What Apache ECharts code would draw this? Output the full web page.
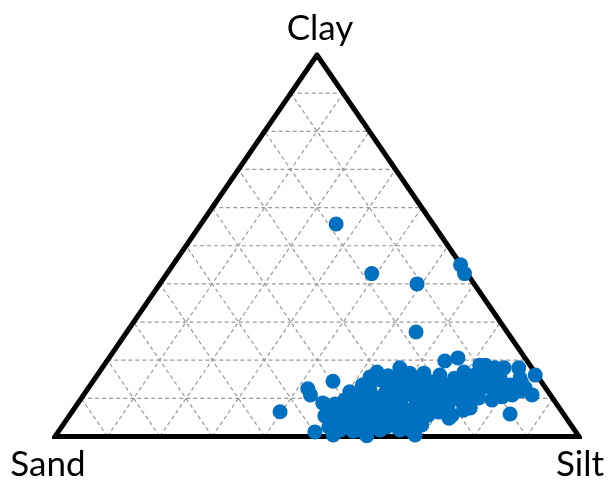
<!DOCTYPE html>
<html>
<head>
<meta charset="utf-8">
<script src="https://cdn.jsdelivr.net/npm/echarts@6/dist/echarts.min.js"></script>
<style>
  html, body { margin: 0; padding: 0; background: #fff; }
  #chart { width: 610px; height: 484px; }
</style>
</head>
<body>
<div id="chart"></div>
<script>
// Soil texture samples, percentages (sand = 100 - silt - clay)
const siltPct = [
  25.8, 39.1, 49.1, 54.9, 56.8, 55.2, 39.7, 83.9,
  42.0, 43.3, 45.8, 46.7, 49.2, 49.0, 51.0, 52.9, 51.6, 50.4,
  52.3, 56.2, 59.4, 53.8, 53.4, 54.0, 52.3, 53.0, 56.4, 58.2,
  57.3, 54.3, 62.0, 62.5, 56.8, 59.4, 61.2, 61.1, 67.4, 67.5,
  62.1, 60.9, 65.4, 64.5, 66.6, 68.4, 69.6, 71.8, 71.7, 75.1,
  75.8, 73.2, 73.0, 70.1, 67.8, 68.5, 68.5, 72.8, 74.5, 71.5,
  69.3, 74.6, 72.4, 76.3, 80.1, 76.7, 79.5, 83.6, 72.8, 77.3,
  81.1, 83.4, 85.6, 77.2, 82.1, 82.8, 75.5,
  54.9, 56.0, 57.3, 60.1, 60.7, 59.5, 58.6, 58.1, 62.5, 64.7,
  63.6, 64.2, 68.4, 64.6, 64.4, 66.1, 66.5, 68.8, 68.6, 70.9,
  73.3, 72.1, 76.8, 50.5, 52.0, 48.8, 51.9, 55.6, 70.9, 57.1,
  79.3, 73.8,
  54.6, 59.4, 64.4, 58.8, 62.6, 67.4, 75.0, 80.7, 51.5, 55.3,
  59.1, 64.9, 69.6, 78.6, 49.0, 53.2, 62.4, 66.2, 51.3, 55.7,
  61.4, 66.6, 53.6, 57.4, 61.2, 65.0, 80.1, 81.8, 75.0
];
const clayPct = [
  55.7, 42.7, 40.0, 45.0, 42.7, 27.4, 6.5, 5.9,
  12.5, 10.9, 14.5, 8.8, 8.5, 1.2, 2.5, 0.4, 6.9, 11.7,
  10.6, 1.4, 0.2, 3.5, 9.6, 12.2, 15.6, 16.9, 14.0, 7.7,
  4.8, 6.2, 2.5, 4.8, 18.0, 16.6, 9.6, 12.2, 1.4, 4.3,
  16.6, 15.3, 16.1, 19.8, 20.6, 13.5, 16.9, 14.3, 18.7, 14.5,
  10.1, 9.0, 5.6, 6.4, 8.3, 3.0, 0.4, 4.8, 6.9, 10.9,
  12.2, 16.1, 14.8, 13.5, 10.4, 18.0, 18.0, 16.1, 18.7, 15.3,
  15.3, 12.7, 10.9, 12.5, 14.0, 11.9, 7.5,
  7.5, 10.1, 11.4, 8.8, 6.4, 4.3, 2.2, 14.8, 13.5, 11.7,
  10.1, 6.9, 5.6, 4.3, 2.2, 10.9, 12.7, 10.1, 15.3, 12.7,
  11.7, 16.1, 14.3, 9.6, 4.8, 5.4, 13.5, 15.9, 8.3, 6.9,
  13.2, 10.1,
  14.8, 14.8, 14.3, 12.2, 12.2, 12.2, 12.2, 12.2, 9.6, 9.6,
  9.6, 9.6, 9.6, 9.6, 6.9, 6.9, 6.9, 6.9, 4.3, 4.3,
  4.3, 4.3, 1.7, 1.7, 1.7, 1.7, 13.5, 10.9, 18.0
];

// Gridline levels (percent) and corner names
const gridLevels = [10, 20, 30, 40, 50, 60, 70, 80, 90];
const cornerNames = { top: 'Clay', left: 'Sand', right: 'Silt' };

// Ternary (silt, clay) -> plane coordinates: Sand at (0,0), Silt at (100,0), Clay at (50,100)
function toPlane(silt, clay) {
  return [silt + clay / 2, clay];
}

const points = siltPct.map((s, i) => toPlane(s, clayPct[i]));

const gridStyle = { color: '#999999', width: 1.2, type: [4, 3] };
const gridSeries = [];
gridLevels.forEach(v => {
  // constant clay
  gridSeries.push([toPlane(0, v), toPlane(100 - v, v)]);
  // constant silt
  gridSeries.push([toPlane(v, 0), toPlane(v, 100 - v)]);
  // constant sand
  gridSeries.push([toPlane(100 - v, 0), toPlane(0, 100 - v)]);
});

const series = gridSeries.map(seg => ({
  type: 'line',
  data: seg,
  symbol: 'none',
  silent: true,
  z: 1,
  lineStyle: gridStyle,
  animation: false
}));

// Triangle frame (last edge repeated so every corner gets a mitred join)
series.push({
  type: 'line',
  data: [toPlane(0, 0), toPlane(100, 0), toPlane(0, 100), toPlane(0, 0), toPlane(100, 0)],
  symbol: 'none',
  silent: true,
  z: 2,
  lineStyle: { color: '#000', width: 5, join: 'miter', cap: 'butt' },
  animation: false
});

series.push({
  type: 'scatter',
  data: points,
  symbol: 'circle',
  symbolSize: 15,
  z: 3,
  itemStyle: { color: '#0070C0', opacity: 1 },
  animation: false
});

const chart = echarts.init(document.getElementById('chart'), null, { renderer: 'canvas' });
const labelFont = '35px Lato, "Open Sans", sans-serif';
chart.setOption({
  animation: false,
  grid: { left: 55, right: 31, top: 55, bottom: 47.5, containLabel: false },
  xAxis: { type: 'value', min: 0, max: 100, show: false },
  yAxis: { type: 'value', min: 0, max: 100, show: false },
  series: series,
  graphic: [
    { type: 'text', x: 320, y: 29, style: { text: cornerNames.top, font: labelFont, fill: '#000', textAlign: 'center', textVerticalAlign: 'middle' } },
    { type: 'text', x: 48, y: 465, style: { text: cornerNames.left, font: labelFont, fill: '#000', textAlign: 'center', textVerticalAlign: 'middle' } },
    { type: 'text', x: 580, y: 465, style: { text: cornerNames.right, font: labelFont, fill: '#000', textAlign: 'center', textVerticalAlign: 'middle' } }
  ]
});
</script>
</body>
</html>
